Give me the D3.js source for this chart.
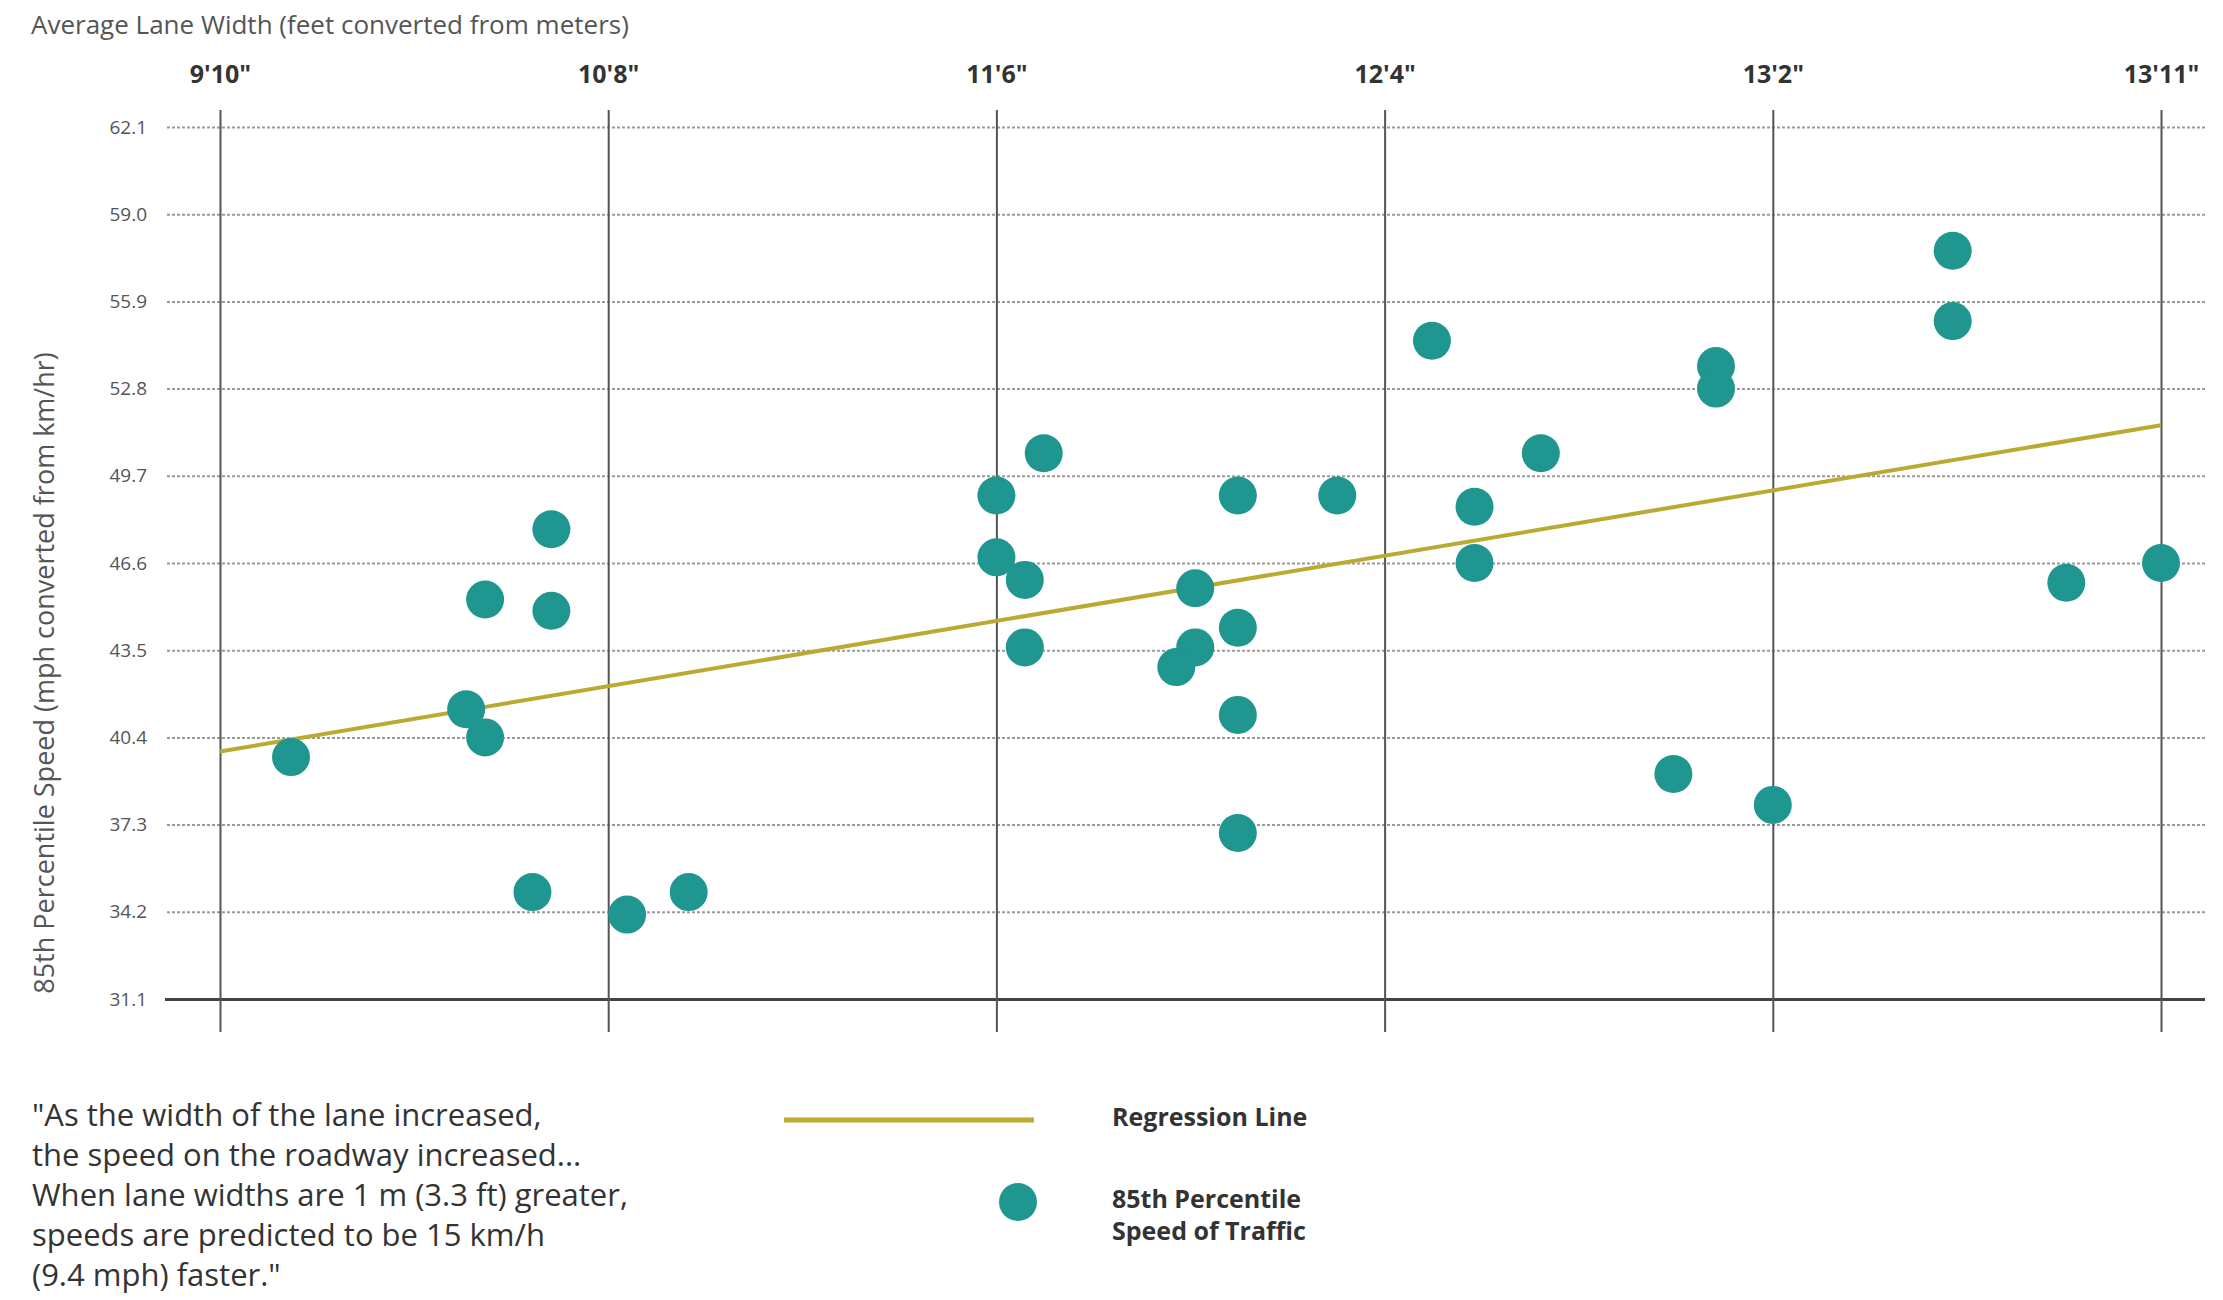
<!DOCTYPE html>
<html>
<head>
<meta charset="utf-8">
<script src="https://cdn.jsdelivr.net/npm/d3@7"></script>
<style>
    body { margin: 0; background: #fff; }
    svg { display: block; font-family: 'Open Sans', 'Liberation Sans', sans-serif; }
</style>
</head>
<body>
<svg id="chart"></svg>
<script>
// lane widths in feet, 85th percentile speeds in mph
var laneWidths = [9.99, 10.36, 10.40, 10.40, 10.54, 10.54, 10.50, 10.70, 10.83,
    11.58, 11.48, 11.48, 11.54, 11.54, 11.99, 12.20, 11.90, 11.99, 11.90, 11.86, 11.99, 11.99,
    13.50, 13.50, 12.40, 13.00, 13.00, 12.63, 12.49, 12.49, 13.74, 13.94, 12.91, 13.12];
var speeds = [39.7, 41.4, 40.4, 45.3, 47.8, 44.9, 34.9, 34.1, 34.9,
    50.5, 49.0, 46.8, 46.0, 43.6, 49.0, 49.0, 45.7, 44.3, 43.6, 42.9, 41.2, 37.0,
    57.7, 55.2, 54.5, 53.6, 52.8, 50.5, 48.6, 46.6, 45.9, 46.6, 39.1, 38.0];

var regressionX = [9.84, 13.94];
var regressionY = [39.9, 51.5];

var xTicks = [9.84, 10.66, 11.48, 12.30, 13.12, 13.94];
var xTickLabels = ['9\'10"', '10\'8"', '11\'6"', '12\'4"', '13\'2"', '13\'11"'];
var yTicks = [31.1, 34.2, 37.3, 40.4, 43.5, 46.6, 49.7, 52.8, 55.9, 59.0, 62.1];

var quoteLines = ['"As the width of the lane increased,',
    'the speed on the roadway increased...',
    'When lane widths are 1 m (3.3 ft) greater,',
    'speeds are predicted to be 15 km/h',
    '(9.4 mph) faster."'];

var width = 2223;
var height = 1300;
var teal = '#1f9790';
var gold = '#bba932';

var svg = d3.select('#chart')
    .attr('width', width)
    .attr('height', height);

var x = d3.scaleLinear().domain([9.84, 13.94]).range([220, 2161]);
var y = d3.scaleLinear().domain([31.1, 62.1]).range([999, 127]);

var gridLeft = 165;
var gridRight = 2205;

// title
svg.append('text')
    .attr('x', 31)
    .attr('y', 34)
    .attr('font-size', 26)
    .attr('fill', '#555')
    .text('Average Lane Width (feet converted from meters)');

// y axis: dotted gridlines, bottom one solid
var yAxis = svg.append('g')
    .attr('transform', 'translate(' + gridRight + ',0)')
    .call(d3.axisLeft(y)
        .tickValues(yTicks)
        .tickSize(gridRight - gridLeft)
        .tickPadding(gridRight - 147 - (gridRight - gridLeft))
        .tickFormat(d3.format('.1f')));
yAxis.select('.domain').remove();
yAxis.selectAll('.tick line')
    .attr('stroke', function (d) { return d === 31.1 ? '#444' : '#9a9a9a'; })
    .attr('stroke-width', function (d) { return d === 31.1 ? 3 : 2; })
    .attr('stroke-dasharray', function (d) { return d === 31.1 ? null : '3,2'; });
yAxis.selectAll('.tick text')
    .attr('font-size', 19)
    .attr('fill', '#555')
    .attr('font-family', 'Open Sans, sans-serif');

// x axis on top, ticks run down the whole plot
var xAxis = svg.append('g')
    .attr('transform', 'translate(0,110)')
    .call(d3.axisTop(x)
        .tickValues(xTicks)
        .tickSize(-(1032 - 110))
        .tickPadding(27)
        .tickFormat(function (d, i) { return xTickLabels[i]; }));
xAxis.select('.domain').remove();
xAxis.selectAll('.tick line')
    .attr('stroke', '#555')
    .attr('stroke-width', 2);
xAxis.selectAll('.tick text')
    .attr('font-size', 25)
    .attr('font-weight', 700)
    .attr('fill', '#333')
    .attr('font-family', 'Open Sans, sans-serif');

// y axis label
svg.append('text')
    .attr('transform', 'translate(54,673) rotate(-90)')
    .attr('text-anchor', 'middle')
    .attr('font-size', 27)
    .attr('fill', '#555')
    .text('85th Percentile Speed (mph converted from km/hr)');

// regression line
var line = d3.line()
    .x(function (d) { return x(d[0]); })
    .y(function (d) { return y(d[1]); });

svg.append('path')
    .datum(d3.zip(regressionX, regressionY))
    .attr('d', line)
    .attr('fill', 'none')
    .attr('stroke', gold)
    .attr('stroke-width', 4);

// points
svg.append('g')
    .selectAll('circle')
    .data(d3.zip(laneWidths, speeds))
    .enter().append('circle')
    .attr('cx', function (d) { return x(d[0]); })
    .attr('cy', function (d) { return y(d[1]); })
    .attr('r', 19)
    .attr('fill', teal);

// quote
svg.append('text')
    .attr('font-size', 31)
    .attr('fill', '#333')
    .selectAll('tspan')
    .data(quoteLines)
    .enter().append('tspan')
    .attr('x', 32)
    .attr('y', function (d, i) { return 1126 + i * 40; })
    .text(function (d) { return d; });

// legend
var legend = svg.append('g')
    .attr('font-size', 25)
    .attr('font-weight', 700)
    .attr('fill', '#333');
legend.append('line')
    .attr('x1', 784).attr('x2', 1034)
    .attr('y1', 1120).attr('y2', 1120)
    .attr('stroke', gold)
    .attr('stroke-width', 5);
legend.append('text')
    .attr('x', 1112).attr('y', 1126)
    .text('Regression Line');
legend.append('circle')
    .attr('cx', 1018).attr('cy', 1202)
    .attr('r', 19)
    .attr('fill', teal);
legend.append('text')
    .attr('x', 1112).attr('y', 1208)
    .text('85th Percentile');
legend.append('text')
    .attr('x', 1112).attr('y', 1240)
    .text('Speed of Traffic');
</script>
</body>
</html>
